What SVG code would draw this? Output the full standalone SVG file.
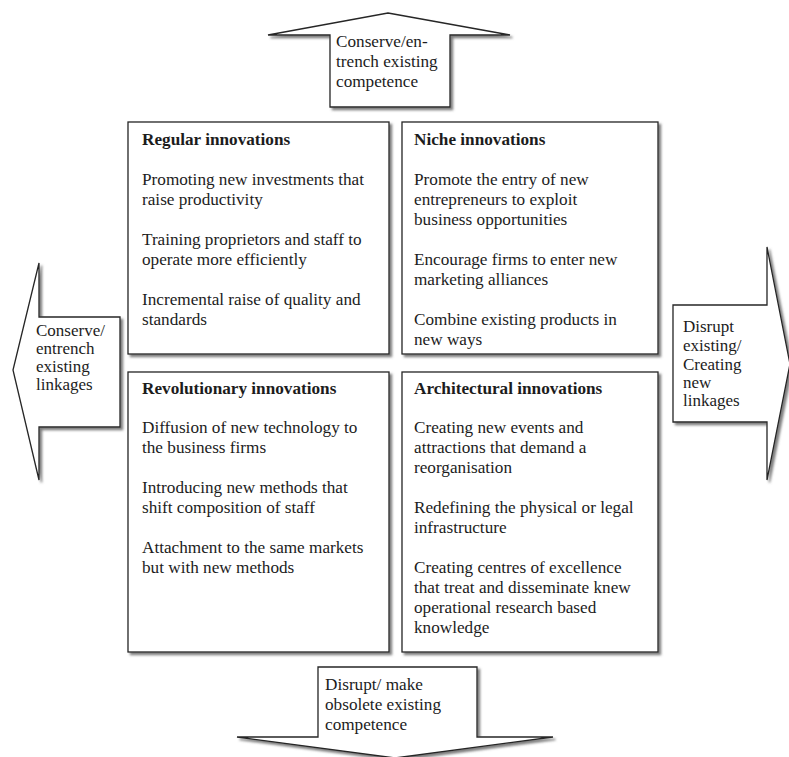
<svg xmlns="http://www.w3.org/2000/svg" width="789" height="757" viewBox="0 0 789 757">
  <defs>
    <filter id="shadow" x="-10%" y="-10%" width="130%" height="130%">
      <feDropShadow dx="2.5" dy="2.5" stdDeviation="0.8" flood-color="#6f6f6f" flood-opacity="0.9"/>
    </filter>
  </defs>
  <style>
    .shape { fill: #ffffff; stroke: #262626; stroke-width: 1.3; filter: url(#shadow); }
    text { font-family: "Liberation Serif", "Times New Roman", serif; font-size: 17.2px; fill: #1c1c1c; }
    .side { font-size: 17px; }
    .title { font-weight: bold; }
  </style>
  <rect width="789" height="757" fill="#ffffff"/>

  <!-- direction arrows -->
  <g id="connectors">
    <g id="arrow-up">
      <path class="shape" d="M388,13 L510,35 L450,35 L450,107 L330,107 L330,35 L268,35 Z"/>
      <text x="336" y="47">Conserve/en-</text>
      <text x="336" y="67">trench existing</text>
      <text x="336" y="87">competence</text>
    </g>
    <g id="arrow-left">
      <path class="shape" d="M13,370 L39,263 L39,317 L120,317 L120,427 L39,427 L39,480 Z"/>
      <text class="side" x="36" y="336">Conserve/</text>
      <text class="side" x="36" y="354">entrench</text>
      <text class="side" x="36" y="372">existing</text>
      <text class="side" x="36" y="390">linkages</text>
    </g>
    <g id="arrow-right">
      <path class="shape" d="M790,364 L767,480 L767,422 L673,422 L673,305 L767,305 L767,247 Z"/>
      <text class="side" x="683" y="332">Disrupt</text>
      <text class="side" x="683" y="351">existing/</text>
      <text class="side" x="683" y="370">Creating</text>
      <text class="side" x="683" y="388">new</text>
      <text class="side" x="683" y="406">linkages</text>
    </g>
    <g id="arrow-down">
      <path class="shape" d="M318,667 L477,667 L477,737 L553,737 L395,758 L237,737 L318,737 Z"/>
      <text x="325" y="690">Disrupt/ make</text>
      <text x="325" y="710">obsolete existing</text>
      <text x="325" y="730">competence</text>
    </g>
  </g>

  <!-- quadrant boxes -->
  <g id="regular">
    <rect class="shape" x="128" y="122" width="261" height="232"/>
    <text class="title" x="142" y="145">Regular innovations</text>
    <text x="142" y="185">Promoting new investments that</text>
    <text x="142" y="205">raise productivity</text>
    <text x="142" y="245">Training proprietors and staff to</text>
    <text x="142" y="265">operate more efficiently</text>
    <text x="142" y="305">Incremental raise of quality and</text>
    <text x="142" y="325">standards</text>
  </g>
  <g id="niche">
    <rect class="shape" x="402" y="122" width="256" height="232"/>
    <text class="title" x="414" y="145">Niche innovations</text>
    <text x="414" y="185">Promote the entry of new</text>
    <text x="414" y="205">entrepreneurs to exploit</text>
    <text x="414" y="225">business opportunities</text>
    <text x="414" y="265">Encourage firms to enter new</text>
    <text x="414" y="285">marketing alliances</text>
    <text x="414" y="325">Combine existing products in</text>
    <text x="414" y="345">new ways</text>
  </g>
  <g id="revolutionary">
    <rect class="shape" x="128" y="372" width="261" height="280"/>
    <text class="title" x="142" y="394">Revolutionary innovations</text>
    <text x="142" y="433">Diffusion of new technology to</text>
    <text x="142" y="453">the business firms</text>
    <text x="142" y="493">Introducing new methods that</text>
    <text x="142" y="513">shift composition of staff</text>
    <text x="142" y="553">Attachment to the same markets</text>
    <text x="142" y="573">but with new methods</text>
  </g>
  <g id="architectural">
    <rect class="shape" x="402" y="372" width="256" height="280"/>
    <text class="title" x="414" y="394">Architectural innovations</text>
    <text x="414" y="433">Creating new events and</text>
    <text x="414" y="453">attractions that demand a</text>
    <text x="414" y="473">reorganisation</text>
    <text x="414" y="513">Redefining the physical or legal</text>
    <text x="414" y="533">infrastructure</text>
    <text x="414" y="573">Creating centres of excellence</text>
    <text x="414" y="593">that treat and disseminate  knew</text>
    <text x="414" y="613">operational research based</text>
    <text x="414" y="633">knowledge</text>
  </g>
</svg>
